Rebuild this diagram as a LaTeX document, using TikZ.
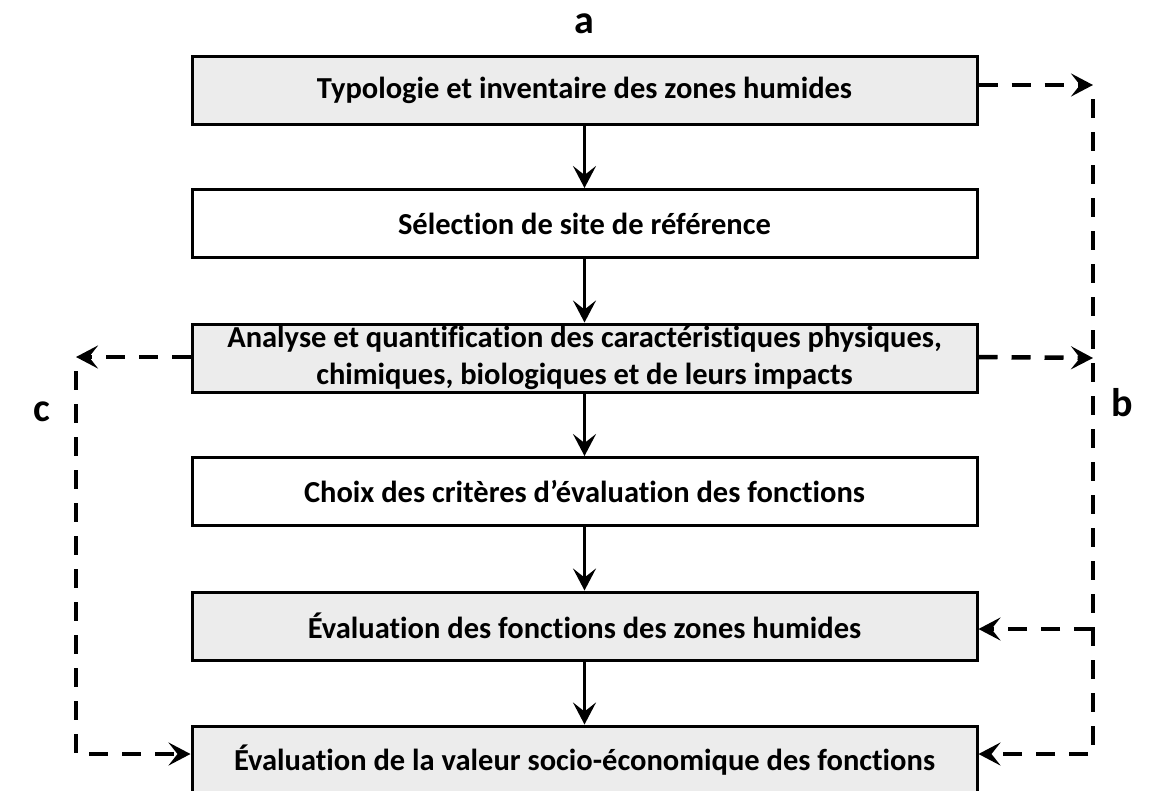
\documentclass[tikz,border=0pt]{standalone}
\usepackage{fontspec}
\setmainfont{Carlito}[Ligatures={NoCommon}]
\usetikzlibrary{arrows.meta}
\begin{document}
\begin{tikzpicture}[x=1pt,y=-1pt,
  stepbox/.style={draw=black,line width=3pt,minimum width=785pt,minimum height=68pt,inner sep=0pt,
    align=center,font=\fontsize{30.5}{37}\selectfont\bfseries},
  graybox/.style={stepbox,fill=gray!15},
  whitebox/.style={stepbox,fill=white},
  solidarrow/.style={line width=2.6pt,-{Stealth[length=22pt,width=23pt,inset=9pt]}},
  dsh/.style={line width=4.5pt,dash pattern=on 19pt off 14pt,-{Stealth[length=22pt,width=23pt,inset=9pt]}},
  lbl/.style={font=\fontsize{40}{42}\selectfont\bfseries,inner sep=0pt}
]
\useasboundingbox (0,0) rectangle (1161,790);
\clip (0,0) rectangle (1161,790);
\node[graybox]  (b1) at (584.5,90)  {Typologie et inventaire des zones humides};
\node[whitebox] (b2) at (584.5,223.5) {Sélection de site de référence};
\node[graybox]  (b3) at (584.5,358) {Analyse et quantification des caractéristiques physiques,\\chimiques, biologiques et de leurs impacts};
\node[whitebox] (b4) at (584.5,491.5) {Choix des critères d’évaluation des fonctions};
\node[graybox]  (b5) at (584.5,626) {Évaluation des fonctions des zones humides};
\node[graybox]  (b6) at (584.5,760) {Évaluation de la valeur socio-économique des fonctions};
\node[lbl] (la) at (584,24) {a};
\node[lbl] (lb) at (1122,403) {b};
\node[lbl] (lc) at (42,412) {c};
\coordinate (rt) at (1093,85);
\coordinate (rb) at (1093,754);
\coordinate (lt) at (76,357);
\coordinate (lbot) at (76,754);
\draw[solidarrow] (b1.south) -- (b2.north);
\draw[solidarrow] (b2.south) -- (b3.north);
\draw[solidarrow] (b3.south) -- (b4.north);
\draw[solidarrow] (b4.south) -- (b5.north);
\draw[solidarrow] (b5.south) -- (b6.north);
\draw[dsh] (b1.east |- rt) -- (rt);
\draw[dsh,dash phase=19pt] (rt) -- (rb) -- (b6.east |- rb);
\draw[dsh] (b3.east |- 0,357) -- (b3.east -| rt);
\draw[dsh] (rt |- 0,629) -- (b5.east |- 0,629);
\draw[dsh] (b3.west |- lt) -- (lt);
\draw[dsh,dash phase=19pt] (lt) -- (lbot) -- (b6.west |- lbot);
\end{tikzpicture}
\end{document}
